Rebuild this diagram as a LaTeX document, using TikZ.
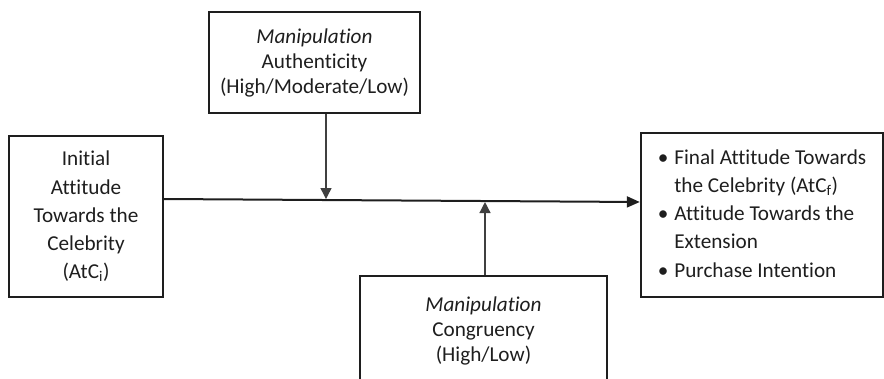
\documentclass[tikz,border=0pt]{standalone}
\usepackage{fontspec}
\setmainfont{Carlito}[Ligatures=NoCommon]
\usetikzlibrary{arrows.meta,calc}
\definecolor{ink}{HTML}{1E1E1E}
\begin{document}
\begin{tikzpicture}[x=1pt,y=-1pt,
  box/.style={draw=ink,line width=2.4pt,inner sep=0pt,text=ink,align=center},
  tight/.style={font=\fontsize{21.2}{25}\selectfont},
  loose/.style={font=\fontsize{21.2}{28.2}\selectfont},
  link/.style={draw=ink,line width=2pt,-{Triangle[length=13pt,width=11pt]}},
  stem/.style={draw=ink!85,line width=1.3pt,-{Triangle[length=11pt,width=11pt]},shorten >=1pt}]
\useasboundingbox (0,0) rectangle (884,378);
\clip (0,0) rectangle (884,378);
\node[box,tight,minimum width=211pt,minimum height=101pt] (T) at (314.5,62.5)
  {\textit{Manipulation}\\Authenticity\\(High/Moderate/Low)};
\node[box,loose,minimum width=154pt,minimum height=161pt] (L) at (86,216.5)
  {Initial\\Attitude\\Towards the\\Celebrity\\(AtC\textsubscript{i})};
\node[box,loose,minimum width=242pt,minimum height=164pt] (R) at (762,215)
  {\begin{tabular}{@{}l@{\hspace{6pt}}l@{}}
   \textbullet & Final Attitude Towards\\
               & the Celebrity (AtC\textsubscript{f})\\
   \textbullet & Attitude Towards the\\
               & Extension\\
   \textbullet & Purchase Intention
   \end{tabular}};
\node[box,tight,minimum width=247pt,minimum height=110pt] (B) at (483.5,331)
  {\textit{Manipulation}\\Congruency\\(High/Low)};
\coordinate (a) at ([yshift=17.5pt]L.east);
\coordinate (b) at ([yshift=13pt]R.west);
\draw[link] (a) -- (b);
\coordinate (m1) at ($(a)!0.343!(b)$);
\coordinate (t1) at ([xshift=11.5pt]T.south);
\draw[stem] (t1) -- (t1 |- m1);
\coordinate (m2) at ($(a)!0.674!(b)$);
\coordinate (t2) at ([xshift=1.5pt]B.north);
\draw[stem] (t2) -- (t2 |- m2);
\end{tikzpicture}
\end{document}
